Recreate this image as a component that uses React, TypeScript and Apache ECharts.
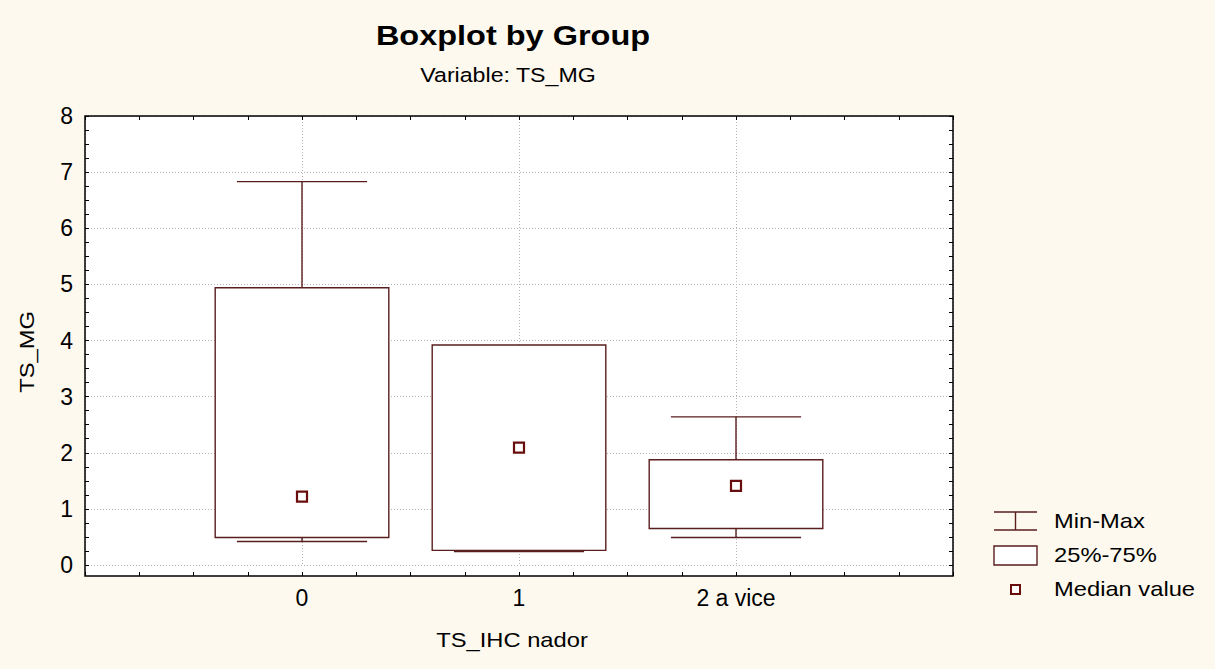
import React, { useEffect, useRef } from 'react';
import * as echarts from 'echarts';

const categories = ['0', '1', '2 a vice'];
const minValues = [0.42, 0.24, 0.49];
const q1Values = [0.49, 0.26, 0.65];
const medianValues = [1.22, 2.09, 1.41];
const q3Values = [4.94, 3.92, 1.875];
const maxValues = [6.83, 3.92, 2.64];

const FONT = '"Liberation Sans", Arial, sans-serif';
const LINE = '#5a1e1e';
const MED = '#6a0d0d';
const BG = '#fdf9ee';

function txt(text: string, x: number, y: number, size: number, opts: any = {}) {
  return {
    type: 'text',
    x,
    y,
    scaleX: opts.scaleX ?? 1.13,
    rotation: opts.rotation ?? 0,
    style: {
      text,
      x: 0,
      y: 0,
      fontSize: size,
      fontWeight: opts.bold ? 'bold' : 'normal',
      fontFamily: FONT,
      fill: '#000',
      align: opts.align ?? 'center',
      textAlign: opts.align ?? 'center',
      verticalAlign: 'middle',
      textVerticalAlign: 'middle',
    },
  };
}

export default function App() {
  const ref = useRef<HTMLDivElement>(null);
  useEffect(() => {
    if (!ref.current) return;
    const chart = echarts.init(ref.current, null, { renderer: 'svg' });
    const data = categories.map((_, i) => [i, minValues[i], q1Values[i], medianValues[i], q3Values[i], maxValues[i]]);
    const tickCommon = { show: true, inside: true, length: 4, lineStyle: { color: '#000', width: 1 } };
    const minorCommon = { show: true, splitNumber: 4, length: 4, lineStyle: { color: '#000', width: 1 } };
    const gridLine = { show: true, lineStyle: { color: '#b4b4b4', width: 1, type: [1, 2] as any } };
    const noLine = { show: false, onZero: false };
    chart.setOption({
      animation: false,
      backgroundColor: BG,
      grid: { left: 85, right: 262, top: 116, bottom: 104, containLabel: false },
      xAxis: [
        {
          type: 'value', min: -1, max: 3, interval: 1, position: 'bottom', offset: 11,
          axisLine: noLine, axisTick: tickCommon, minorTick: minorCommon,
          splitLine: gridLine,
          axisLabel: {
            margin: 10, fontSize: 23, fontFamily: FONT, color: '#000',
            formatter: (v: number) => (Number.isInteger(v) && categories[v] !== undefined ? categories[v] : ''),
          },
        },
        {
          type: 'value', min: -1, max: 3, interval: 1, position: 'top',
          axisLine: noLine, axisTick: tickCommon, minorTick: minorCommon,
          splitLine: { show: false }, axisLabel: { show: false },
        },
      ],
      yAxis: [
        {
          type: 'value', min: 0, max: 8, interval: 1, position: 'left',
          axisLine: noLine, axisTick: tickCommon, minorTick: minorCommon,
          splitLine: gridLine,
          axisLabel: { margin: 12, fontSize: 23, fontFamily: FONT, color: '#000' },
        },
        {
          type: 'value', min: 0, max: 8, interval: 1, position: 'right',
          axisLine: noLine, axisTick: tickCommon, minorTick: minorCommon,
          splitLine: { show: false }, axisLabel: { show: false },
        },
      ],
      series: [
        {
          type: 'custom',
          xAxisIndex: 0,
          yAxisIndex: 0,
          data,
          z: 5,
          renderItem: (params: any, api: any) => {
            const x = api.value(0);
            const pMin = api.coord([x, api.value(1)]);
            const pQ1 = api.coord([x, api.value(2)]);
            const pMed = api.coord([x, api.value(3)]);
            const pQ3 = api.coord([x, api.value(4)]);
            const pMax = api.coord([x, api.value(5)]);
            const unit = api.size([1, 0])[0];
            const boxW = unit * 0.8;
            const capW = unit * 0.6;
            const cx = pMed[0];
            const ls = { stroke: LINE, lineWidth: 1.4, fill: 'none' };
            const children: any[] = [];
            if (pMax[1] < pQ3[1] - 0.5) {
              children.push({ type: 'line', shape: { x1: cx, y1: pMax[1], x2: cx, y2: pQ3[1] }, style: ls });
              children.push({ type: 'line', shape: { x1: cx - capW / 2, y1: pMax[1], x2: cx + capW / 2, y2: pMax[1] }, style: ls });
            }
            children.push({ type: 'line', shape: { x1: cx, y1: pQ1[1], x2: cx, y2: pMin[1] }, style: ls });
            children.push({ type: 'line', shape: { x1: cx - capW / 2, y1: pMin[1], x2: cx + capW / 2, y2: pMin[1] }, style: ls });
            children.push({
              type: 'rect',
              shape: { x: cx - boxW / 2, y: pQ3[1], width: boxW, height: pQ1[1] - pQ3[1] },
              style: { fill: '#fff', stroke: LINE, lineWidth: 1.4 },
            });
            children.push({
              type: 'rect',
              shape: { x: cx - 5, y: pMed[1] - 5, width: 10, height: 10 },
              style: { fill: '#fff', stroke: MED, lineWidth: 2.2 },
            });
            return { type: 'group', children };
          },
        },
      ],
      graphic: [
        { type: 'rect', z: -10, shape: { x: 85, y: 116, width: 868, height: 460 }, style: { fill: '#fff' } },
        { type: 'rect', z: 100, shape: { x: 85, y: 116, width: 868, height: 460 }, style: { fill: 'none', stroke: '#000', lineWidth: 1.5 } },
        txt('Boxplot by Group', 513, 35, 28, { bold: true, scaleX: 1.16 }),
        txt('Variable: TS_MG', 508, 75, 20.5),
        txt('TS_IHC nador', 512, 640, 21),
        txt('TS_MG', 27, 352, 21, { rotation: Math.PI / 2 }),
        // legend
        { type: 'line', shape: { x1: 994, y1: 512, x2: 1037, y2: 512 }, style: { stroke: LINE, lineWidth: 1.4 } },
        { type: 'line', shape: { x1: 994, y1: 530, x2: 1037, y2: 530 }, style: { stroke: LINE, lineWidth: 1.4 } },
        { type: 'line', shape: { x1: 1015.5, y1: 512, x2: 1015.5, y2: 530 }, style: { stroke: LINE, lineWidth: 1.4 } },
        { type: 'rect', shape: { x: 994, y: 546, width: 43, height: 19 }, style: { fill: '#fff', stroke: LINE, lineWidth: 1.4 } },
        { type: 'rect', shape: { x: 1011, y: 585, width: 9, height: 9 }, style: { fill: '#fff', stroke: MED, lineWidth: 2 } },
        txt('Min-Max', 1054, 521, 21, { align: 'left' }),
        txt('25%-75%', 1054, 555, 21, { align: 'left' }),
        txt('Median value', 1054, 589, 21, { align: 'left' }),
      ],
    });
    return () => chart.dispose();
  }, []);
  return <div ref={ref} style={{ position: 'fixed', left: 0, top: 0, width: 1215, height: 669 }} />;
}
